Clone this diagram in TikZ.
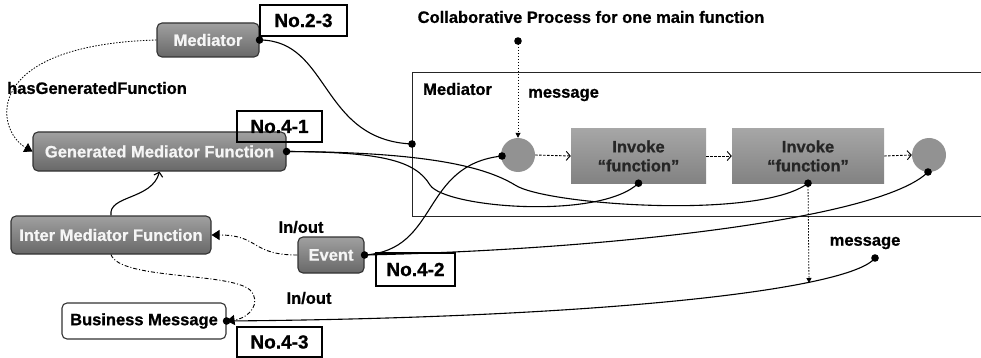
\documentclass[tikz,border=0pt]{standalone}
\usepackage{fontspec}
\setmainfont{Liberation Sans}[BoldFeatures={FakeBold=0.8}]
\usetikzlibrary{arrows.meta}
\definecolor{gtop}{RGB}{160,160,160}
\definecolor{gbot}{RGB}{104,104,104}
\definecolor{gline}{RGB}{50,50,50}
\definecolor{itop}{RGB}{166,166,166}
\definecolor{ibot}{RGB}{130,130,130}
\definecolor{cfill}{RGB}{146,146,146}
\definecolor{wtext}{RGB}{245,245,245}
\begin{document}
\begin{tikzpicture}[x=1pt,y=-1pt,
  every node/.style={font=\fontsize{16.5}{19}\selectfont\bfseries, inner sep=0pt},
  gbox/.style={rounded corners=5pt, draw=gline, line width=1.1pt, top color=gtop, bottom color=gbot, text=wtext},
  wbox/.style={rounded corners=5pt, draw=gline, line width=1.1pt, fill=white},
  numbox/.style={draw=black, line width=1.1pt, font=\fontsize{19}{21}\selectfont\bfseries},
  ibox/.style={top color=itop, bottom color=ibot, align=center, text=black!85},
  circ/.style={circle, fill=cfill, minimum size=34pt},
  conn/.style={line width=1.1pt},
  dotline/.style={line width=0.8pt, dash pattern=on 1.5pt off 1.5pt},
  dashline/.style={line width=0.9pt, dash pattern=on 2.5pt off 1.5pt},
  dashdot/.style={line width=0.9pt, dash pattern=on 4pt off 2pt on 1pt off 2pt},
  tri/.style={-{Triangle[length=8pt,width=10pt]}},
  smalltri/.style={-{Triangle[length=5pt,width=5pt]}},
  barb/.style={-{Straight Barb[length=4pt,width=9pt]}},
  dotmark/.style={fill=black}
]
\useasboundingbox (0,0) rectangle (981,358);

% frame
\node[draw=black!85, line width=1.4pt, anchor=north west, minimum width=600pt, minimum height=144pt] (frame) at (412,72) {};
\node[anchor=west] (frlabel) at (423,89) {Mediator};
\node[anchor=west] (msg1) at (528,95) {message};
\node (title) at (591,17) {Collaborative Process for one main function};

% process elements
\node[circ] (c1) at (518,155) {};
\node[ibox, minimum width=135pt, minimum height=54pt] (b1) at (638.5,156) {Invoke\\“function”};
\node[ibox, minimum width=152pt, minimum height=54pt] (b2) at (808,156) {Invoke\\“function”};
\node[circ] (c2) at (929,155) {};

% left nodes
\node[gbox, minimum width=102pt, minimum height=34pt] (med) at (208,40) {Mediator};
\node[gbox, minimum width=253pt, minimum height=39pt] (gmf) at (159.5,151.5) {Generated Mediator Function};
\node[gbox, minimum width=200pt, minimum height=38pt] (imf) at (111,235) {Inter Mediator Function};
\node[gbox, minimum width=66pt, minimum height=36pt] (ev) at (331,255) {Event};
\node[wbox, minimum width=164pt, minimum height=36pt] (bm) at (144,321) {Business Message};

% number labels
\node[numbox, fill=white, minimum width=87pt, minimum height=31pt] (n23) at (303.5,20.5) {No.2-3};
\node[numbox, minimum width=85pt, minimum height=31pt] (n41) at (279.5,126.5) {No.4-1};
\node[numbox, fill=white, minimum width=79pt, minimum height=33pt] (n42) at (415.5,269.5) {No.4-2};
\node[numbox, fill=white, minimum width=85pt, minimum height=30pt] (n43) at (279.5,342) {No.4-3};

% other labels
\node[anchor=west] (hgf) at (7,88) {hasGeneratedFunction};
\node (io1) at (301,227) {In/out};
\node (io2) at (309,298) {In/out};
\node (msg2) at (865,243) {message};

% coordinates for dot ends
\coordinate (fdot) at (412,144);
\coordinate (topdot) at (518,41);
\coordinate (c1dot) at (502,156);
\coordinate (c2dot) at (928,172);
\coordinate (msgdot) at (875,258);
\coordinate (arrowpt) at (809,283);

% flow arrows
\draw[dotline, smalltri] (topdot) -- (c1.north);
\draw[dashline, barb] (c1.east) -- (b1.west);
\draw[dashline, barb] (b1.east) -- (b2.west);
\draw[dashline, barb] (b2.east) -- (c2.west);
\draw[dotline, smalltri] (b2.south) -- (arrowpt);

% solid connectors
\draw[conn] (med.east) .. controls (330,40) and (320,140) .. (fdot);
\draw[conn] (gmf.east) .. controls (380,152) and (415,160) .. (430,185) .. controls (445,208) and (600,220) .. (b1.south);
\draw[conn] (gmf.east) .. controls (440,152) and (490,170) .. (515,185) .. controls (545,205) and (760,220) .. (b2.south);
\draw[conn] (ev.east) .. controls (440,250) and (420,165) .. (c1dot);
\draw[conn] (ev.east) .. controls (600,250) and (880,220) .. (c2dot);
\draw[conn] (bm.east) .. controls (600,318) and (850,290) .. (msgdot);
\draw[conn, barb] (imf.north) .. controls (108,195) and (152,200) .. (gmf.south);

% dotted and dash-dot connectors
\draw[dotline, tri] (med.west) .. controls (-20,45) and (-5,130) .. (gmf.west);
\draw[dashdot, tri] (ev.west) .. controls (250,255) and (260,235) .. (imf.east);
\draw[dashdot, tri] (imf.south) .. controls (120,280) and (230,272) .. (250,290) .. controls (262,302) and (250,318) .. (bm.east);

% dots
\foreach \p in {med.east, gmf.east, ev.east, bm.east, fdot, topdot, c1dot, c2dot, msgdot, b1.south, b2.south}
  \fill[dotmark] (\p) circle (3.8pt);
\end{tikzpicture}
\end{document}
